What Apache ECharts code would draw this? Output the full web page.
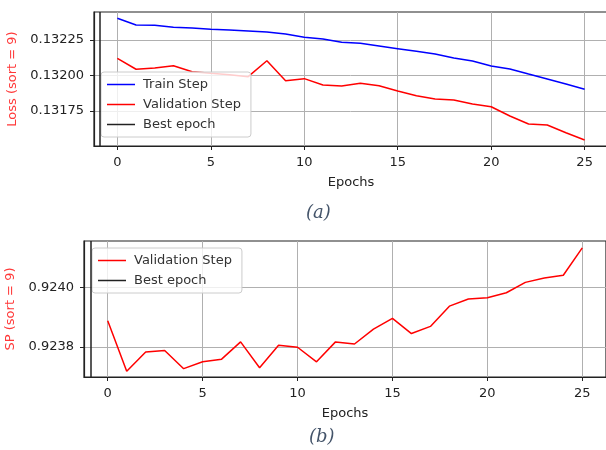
<!DOCTYPE html>
<html>
<head>
<meta charset="utf-8">
<script src="https://cdn.jsdelivr.net/npm/echarts@6/dist/echarts.min.js"></script>
<style>
  html, body { margin: 0; padding: 0; background: #fff; }
  #chart { width: 606px; height: 450px; }
</style>
</head>
<body>
<div id="chart"></div>
<script>
// values
const epochs = [0,1,2,3,4,5,6,7,8,9,10,11,12,13,14,15,16,17,18,19,20,21,22,23,24,25];
const lossTrain = [0.132403,0.132356,0.132353,0.132339,0.132334,0.132325,0.132320,0.132313,0.132306,0.132292,
  0.132269,0.132257,0.132234,0.132227,0.132208,0.132189,0.132170,0.132151,0.132123,0.132102,
  0.132067,0.132046,0.132010,0.131975,0.131940,0.131903];
const lossVal = [0.132121,0.132044,0.132053,0.132069,0.132027,0.132016,0.132006,0.131992,0.132104,0.131963,
  0.131978,0.131933,0.131926,0.131945,0.131928,0.131891,0.131858,0.131835,0.131828,0.131799,
  0.131780,0.131715,0.131659,0.131652,0.131597,0.131546];
const spVal = [0.923888,0.923718,0.923783,0.923788,0.923727,0.923750,0.923759,0.923817,0.923730,0.923806,
  0.923799,0.923750,0.923817,0.923810,0.923860,0.923896,0.923845,0.923869,0.923937,0.923961,
  0.923965,0.923982,0.924017,0.924032,0.924041,0.924133];
const bestEpoch = -0.92;
const xTicks = [0,5,10,15,20,25];
const lossTicks = [0.13175,0.13200,0.13225];
const spTicks = [0.9238,0.9240];

const font = 'DejaVu Sans';
const pairs = (ys) => epochs.map((e, i) => [e, ys[i]]);

function xAxisFor(gi) {
  return {
    type: 'value', gridIndex: gi, min: -1.25, max: 26.25,
    name: 'Epochs', nameLocation: 'middle', nameGap: 30,
    nameTextStyle: { color: '#222', fontSize: 13, fontFamily: font },
    axisLine: { show: true, onZero: false, lineStyle: { color: '#222', width: 1.2 } },
    axisTick: { show: true, inside: false, length: 4, customValues: xTicks, lineStyle: { color: '#222' } },
    axisLabel: { customValues: xTicks, margin: 10, color: '#222', fontSize: 13, fontFamily: font },
    splitLine: { show: true, lineStyle: { color: '#b0b0b0', width: 1 } }
  };
}
function yAxisFor(gi, name, min, max, ticks, digits) {
  return {
    type: 'value', gridIndex: gi, min: min, max: max,
    name: name, nameLocation: 'middle',
    nameGap: gi === 0 ? 72 : 65,
    nameTextStyle: { color: '#ff3838', fontSize: 13, fontFamily: font },
    axisLine: { show: true, onZero: false, lineStyle: { color: '#222', width: 1.2 } },
    axisTick: { show: true, inside: false, length: 4, customValues: ticks, lineStyle: { color: '#222' } },
    axisLabel: { customValues: ticks, margin: 10, color: '#222', fontSize: 13, fontFamily: font,
      formatter: v => v.toFixed(digits) },
    splitLine: { show: true, lineStyle: { color: '#b0b0b0', width: 1 } }
  };
}
function legendAt(gi, left, top, names) {
  return {
    gridIndex: gi, orient: 'vertical', left: left, top: top,
    data: names, icon: 'rect', itemWidth: 28, itemHeight: 1.5, itemGap: 7,
    padding: [6, 10, 6, 6],
    backgroundColor: 'rgba(255,255,255,0.8)', borderColor: '#cccccc', borderWidth: 1, borderRadius: 3,
    textStyle: { color: '#333', fontSize: 13, fontFamily: font, padding: [0, 0, 0, 3] },
    selectedMode: false
  };
}
function bestLine(gi) {
  return {
    name: 'Best epoch', type: 'line', xAxisIndex: gi, yAxisIndex: gi, data: [],
    color: '#222', lineStyle: { color: '#222' },
    markLine: { silent: true, symbol: 'none', label: { show: false },
      lineStyle: { color: '#222', width: 1.5, type: 'solid' },
      data: [{ xAxis: bestEpoch }] }
  };
}
function curve(gi, name, ys, color) {
  return {
    name: name, type: 'line', xAxisIndex: gi, yAxisIndex: gi, data: pairs(ys),
    showSymbol: false, color: color, lineStyle: { color: color, width: 1.5 }, animation: false
  };
}

const chart = echarts.init(document.getElementById('chart'));
chart.setOption({
  animation: false,
  backgroundColor: '#fff',
  grid: [
    { left: 94, top: 12, width: 514, height: 134, show: true, borderColor: '#222', borderWidth: 1.2,
      containLabel: false, outerBoundsMode: 'none' },
    { left: 84, top: 241, width: 522, height: 136, show: true, borderColor: '#222', borderWidth: 1.2,
      containLabel: false, outerBoundsMode: 'none' }
  ],
  xAxis: [xAxisFor(0), xAxisFor(1)],
  yAxis: [
    yAxisFor(0, 'Loss (sort = 9)', 0.131504, 0.132447, lossTicks, 5),
    yAxisFor(1, 'SP (sort = 9)', 0.923699, 0.924156, spTicks, 4)
  ],
  legend: [
    legendAt(0, 101, 72, ['Train Step', 'Validation Step', 'Best epoch']),
    legendAt(1, 92, 248, ['Validation Step', 'Best epoch'])
  ],
  series: [
    bestLine(0),
    curve(0, 'Train Step', lossTrain, '#0000ff'),
    curve(0, 'Validation Step', lossVal, '#ff0000'),
    bestLine(1),
    curve(1, 'Validation Step', spVal, '#ff0000')
  ],
  graphic: [
    { type: 'text', left: 306, top: 204, style: { text: '(a)', fontFamily: 'DejaVu Serif', fontStyle: 'italic', fontSize: 18, fill: '#44546a' } },
    { type: 'text', left: 309, top: 428, style: { text: '(b)', fontFamily: 'DejaVu Serif', fontStyle: 'italic', fontSize: 18, fill: '#44546a' } }
  ]
});
</script>
</body>
</html>
